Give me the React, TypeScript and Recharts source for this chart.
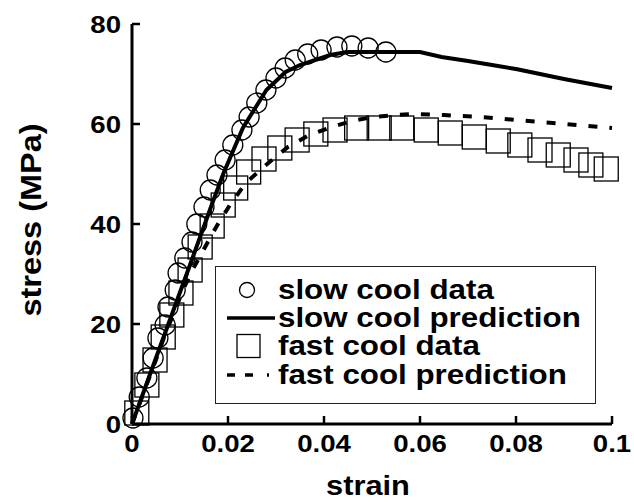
import React from 'react'
import { ComposedChart, Line, Scatter, XAxis, YAxis, Legend } from 'recharts'

// [strain, stress (MPa)]
const slowCoolData = [
  [0.0002, 1.2], [0.0015, 5.4], [0.0031, 9.2], [0.0044, 13.2], [0.0054, 17.2],
  [0.0069, 19.8], [0.0075, 23.4], [0.009, 26.8], [0.0096, 30.2], [0.011, 33.2],
  [0.0125, 36.4], [0.0135, 40], [0.015, 43.4], [0.0163, 46.8], [0.0177, 49.8],
  [0.0194, 52.8], [0.021, 55.8], [0.0229, 58.8], [0.0244, 61.4], [0.026, 64.2],
  [0.0279, 66.8], [0.03, 69.2], [0.0319, 71.2], [0.034, 72.8], [0.0366, 74],
  [0.0394, 74.8], [0.0427, 75.4], [0.0458, 75.6], [0.0492, 75.2], [0.0529, 74.4],
]

const fastCoolData = [
  [0.001, 2.2], [0.0031, 7.8], [0.0048, 12.8], [0.0065, 17.4], [0.0083, 21.8],
  [0.0102, 26.2], [0.0121, 30.8], [0.0142, 35.4], [0.0167, 39.6], [0.019, 43.8],
  [0.0216, 47.2], [0.0243, 50.4], [0.0275, 53], [0.0308, 55.2], [0.0344, 56.8],
  [0.0383, 58], [0.0423, 58.8], [0.0468, 59.2], [0.0515, 59.2], [0.0562, 59.2],
  [0.0613, 58.8], [0.0663, 58.2], [0.0713, 57.4], [0.0763, 56.6], [0.0808, 55.8],
  [0.085, 54.8], [0.0888, 53.8], [0.0925, 52.8], [0.0956, 51.8], [0.0988, 51],
]

const slowCoolPrediction = [
  [0, 0], [0.004, 10.6], [0.008, 21.1], [0.012, 31.6], [0.0169, 44.6], [0.019, 50],
  [0.0231, 59.2], [0.028, 66.8], [0.032, 70.4], [0.035, 71.8], [0.0413, 73.8],
  [0.0448, 74.4], [0.06, 74.4], [0.0645, 73.4], [0.07, 72.6], [0.075, 71.8],
  [0.08, 71], [0.085, 70], [0.09, 69], [0.095, 68.1], [0.1, 67.2],
]

const fastCoolPrediction = [
  [0, 0], [0.0052, 13.4], [0.0069, 18], [0.009, 22.8], [0.0106, 26.8], [0.0127, 31],
  [0.0158, 36.4], [0.0179, 40], [0.0204, 43.8], [0.0237, 48.2], [0.0284, 52.2],
  [0.0325, 55.4], [0.0369, 57.8], [0.0416, 59.4], [0.0458, 60.6], [0.0502, 61.4],
  [0.0548, 61.8], [0.059, 62], [0.065, 61.8], [0.0725, 61.4], [0.08, 60.8],
  [0.09, 60], [0.1, 59.2],
]

const strainTicks = [0, 0.02, 0.04, 0.06, 0.08, 0.1]
const stressTicks = [0, 20, 40, 60, 80]

const toPoints = (rows: number[][]) => rows.map(([strain, stress]) => ({ strain, stress }))

const W = 634
const H = 502
const PLOT = { left: 132, right: 612, top: 24, bottom: 424 }
const TICK = 8
const FONT = '"Liberation Sans", Arial, Helvetica, sans-serif'
const STRETCH = 1.15

const BottomTick = ({ x, payload }: any) => (
  <g>
    <line x1={x} x2={x} y1={PLOT.bottom} y2={PLOT.bottom - TICK} stroke="#000" strokeWidth={2.5} />
    <text
      transform={`translate(${x},452) scale(${STRETCH},1)`}
      textAnchor="middle"
      fontFamily={FONT}
      fontWeight={700}
      fontSize={24}
      fill="#000"
    >
      {String(payload.value)}
    </text>
  </g>
)

const TopTick = ({ x }: any) => (
  <line x1={x} x2={x} y1={PLOT.top} y2={PLOT.top + TICK} stroke="#000" strokeWidth={2.5} />
)

const LeftTick = ({ y, payload }: any) => (
  <g>
    <line x1={PLOT.left} x2={PLOT.left + TICK} y1={y} y2={y} stroke="#000" strokeWidth={2.5} />
    <text
      transform={`translate(${PLOT.left - 11},${y + 8.5}) scale(${STRETCH},1)`}
      textAnchor="end"
      fontFamily={FONT}
      fontWeight={700}
      fontSize={24}
      fill="#000"
    >
      {String(payload.value)}
    </text>
  </g>
)

const RightTick = ({ y }: any) => (
  <line x1={PLOT.right} x2={PLOT.right - TICK} y1={y} y2={y} stroke="#000" strokeWidth={2.5} />
)

const OpenCircle = (p: any) => (
  <circle cx={p.cx} cy={p.cy} r={10} fill="none" stroke="#000" strokeWidth={1.3} />
)

const OpenSquare = (p: any) => (
  <rect x={p.cx - 12} y={p.cy - 12} width={24} height={24} fill="none" stroke="#000" strokeWidth={1.3} />
)

const legendRows = [
  { label: 'slow cool data', icon: <circle cx={32} cy={14} r={7.5} fill="none" stroke="#000" strokeWidth={1.3} /> },
  { label: 'slow cool prediction', icon: <line x1={12} x2={60} y1={14} y2={14} stroke="#000" strokeWidth={3.5} /> },
  { label: 'fast cool data', icon: <rect x={22} y={2.5} width={23} height={23} fill="none" stroke="#000" strokeWidth={1.3} /> },
  {
    label: 'fast cool prediction',
    icon: <line x1={12} x2={56} y1={14} y2={14} stroke="#000" strokeWidth={3.5} strokeDasharray="8 10 8 14 2 40" />,
  },
]

const LegendBox = () => (
  <div
    style={{
      width: 381,
      height: 138,
      boxSizing: 'border-box',
      border: '1.5px solid #222',
      background: '#fff',
      position: 'relative',
    }}
  >
    {legendRows.map((row, i) => (
      <div
        key={row.label}
        style={{ position: 'absolute', left: -1.5, top: 8.5 + i * 28.4, height: 28, display: 'flex', alignItems: 'center' }}
      >
        <svg width={63} height={28} style={{ display: 'block', flex: 'none' }}>
          {row.icon}
        </svg>
        <span
          style={{
            fontFamily: FONT,
            fontWeight: 700,
            fontSize: 27,
            lineHeight: '28px',
            color: '#000',
            whiteSpace: 'nowrap',
            display: 'inline-block',
            transform: 'scaleX(1.16)',
            transformOrigin: 'left center',
          }}
        >
          {row.label}
        </span>
      </div>
    ))}
  </div>
)

const StrainLabel = () => (
  <text
    transform="translate(368,495) scale(1.1,1)"
    textAnchor="middle"
    fontFamily={FONT}
    fontWeight={700}
    fontSize={28}
    fill="#000"
  >
    strain
  </text>
)

const StressLabel = () => (
  <text
    transform="translate(41,220) rotate(-90) scale(1.12,1)"
    textAnchor="middle"
    fontFamily={FONT}
    fontWeight={700}
    fontSize={29}
    fill="#000"
  >
    stress (MPa)
  </text>
)

export default function App() {
  return (
    <div style={{ position: 'absolute', left: 0, top: 0, width: W, height: H, background: '#fff' }}>
      <ComposedChart
        width={W}
        height={H}
        margin={{ top: PLOT.top, right: W - PLOT.right, bottom: 0, left: 0 }}
      >
        <XAxis
          dataKey="strain"
          type="number"
          domain={[0, 0.1]}
          ticks={strainTicks}
          height={H - PLOT.bottom}
          axisLine={{ stroke: '#000', strokeWidth: 3 }}
          tickLine={false}
          tick={<BottomTick />}
          interval={0}
          label={{ content: () => <StrainLabel /> }}
        />
        <XAxis
          xAxisId="top"
          orientation="top"
          type="number"
          domain={[0, 0.1]}
          ticks={strainTicks}
          height={0}
          axisLine={{ stroke: '#000', strokeWidth: 3 }}
          tickLine={false}
          tick={<TopTick />}
          interval={0}
        />
        <YAxis
          dataKey="stress"
          type="number"
          domain={[0, 80]}
          ticks={stressTicks}
          width={PLOT.left}
          axisLine={{ stroke: '#000', strokeWidth: 3 }}
          tickLine={false}
          tick={<LeftTick />}
          interval={0}
          label={{ content: () => <StressLabel /> }}
        />
        <YAxis
          yAxisId="right"
          orientation="right"
          type="number"
          domain={[0, 80]}
          ticks={stressTicks}
          width={0}
          axisLine={{ stroke: '#000', strokeWidth: 3.5 }}
          tickLine={false}
          tick={<RightTick />}
          interval={0}
        />
        <Line
          data={toPoints(slowCoolPrediction)}
          dataKey="stress"
          type="linear"
          stroke="#000"
          strokeWidth={4}
          dot={false}
          activeDot={false}
          isAnimationActive={false}
        />
        <Line
          data={toPoints(fastCoolPrediction)}
          dataKey="stress"
          type="linear"
          stroke="#000"
          strokeWidth={4}
          strokeDasharray="9 12"
          dot={false}
          activeDot={false}
          isAnimationActive={false}
        />
        <Scatter data={toPoints(slowCoolData)} dataKey="stress" shape={<OpenCircle />} isAnimationActive={false} />
        <Scatter data={toPoints(fastCoolData)} dataKey="stress" shape={<OpenSquare />} isAnimationActive={false} />
        <Legend
          layout="vertical"
          align="center"
          verticalAlign="middle"
          wrapperStyle={{ position: 'absolute', left: 215, top: 266, width: 381, height: 138 }}
          content={() => <LegendBox />}
        />
      </ComposedChart>
    </div>
  )
}
